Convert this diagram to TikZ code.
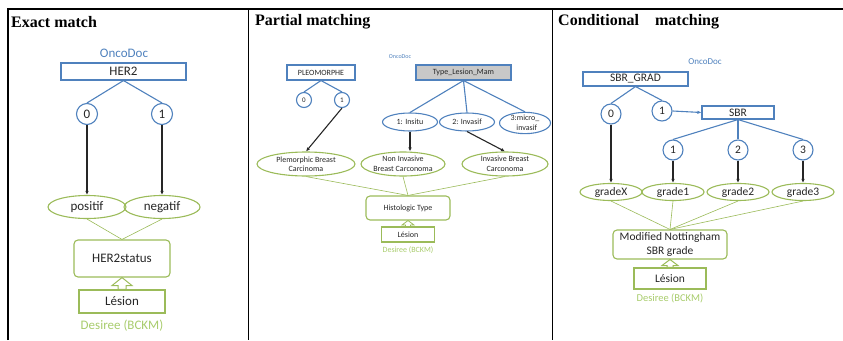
\documentclass[tikz,border=0pt]{standalone}
\usepackage{fontspec}
\setmainfont{Carlito}
\newfontfamily\titlefont{Liberation Serif}
\usetikzlibrary{shapes.geometric,arrows.meta,calc}

\definecolor{ocblue}{RGB}{79,129,189}
\definecolor{dsgreen}{RGB}{155,187,89}
\definecolor{dslight}{RGB}{168,204,108}
\definecolor{lesgrey}{RGB}{200,200,200}

\tikzset{
  title/.style={font=\titlefont\bfseries\fontsize{16}{18}\selectfont,anchor=west,inner sep=0pt},
  bigtext/.style={font=\fontsize{13}{15.5}\selectfont},
  midtext/.style={font=\fontsize{11.5}{13.5}\selectfont},
  smalltext/.style={font=\fontsize{8}{9.5}\selectfont},
  onco/.style={draw=ocblue,line width=1.1pt,rectangle,inner sep=0pt,text=black!85},
  val/.style={draw=ocblue,line width=1.1pt,circle,inner sep=0pt,text=black!85},
  term/.style={draw=dsgreen,line width=1.1pt,ellipse,inner sep=0pt,text=black!85,align=center},
  concept/.style={draw=dsgreen,line width=1.1pt,rounded corners=4pt,inner sep=0pt,text=black!85,align=center},
  lesion/.style={draw=dsgreen,line width=1.1pt,inner sep=0pt,text=black!85},
  bl/.style={draw=ocblue,line width=1.1pt},
  gl/.style={draw=dsgreen,semithick},
  map/.style={draw=black!85,line width=1.1pt,-{Latex[length=4pt,width=3.5pt]}},
  isa/.style={draw=dsgreen,line width=1pt,line join=miter},
}

\begin{document}
\begin{tikzpicture}[x=1pt,y=-1pt]
        \useasboundingbox (0,0) rectangle (843,340);
        \draw[line width=1.2pt] (8,340) -- (8,9) -- (843,9);
        \draw[line width=1pt] (248,9) -- (248,340);
        \draw[line width=1pt] (552,9) -- (552,340);

        % exact match
        \node[title] (t1) at (11,22) {Exact match};
        \node[bigtext,text=ocblue] (od1) at (124,53) {OncoDoc};
        \node[onco,bigtext,minimum width=125pt,minimum height=17pt] (her2) at (123.5,71.5) {HER2};
        \node[val,bigtext,minimum size=21pt] (h0) at (87,114) {0};
        \node[val,bigtext,minimum size=21pt] (h1) at (162,114) {1};
        \draw[bl] (her2.south) -- (h0.north);
        \draw[bl] (her2.south) -- (h1.north);
        \node[term,bigtext,minimum width=78pt,minimum height=23pt] (pos) at (87,207) {positif};
        \node[term,bigtext,minimum width=76pt,minimum height=23pt] (neg) at (162,207) {negatif};
        \draw[map] (h0.south) -- (pos.north);
        \draw[map] (h1.south) -- (neg.north);
        \node[concept,bigtext,minimum width=96pt,minimum height=37pt] (status) at (122,258.5) {HER2status};
        \draw[gl] (pos.south) -- (status.north);
        \draw[gl] (neg.south) -- (status.north);
        \node[lesion,bigtext,minimum width=86pt,minimum height=23pt] (les1) at (122,301.5) {Lésion};
        \draw[isa] (status.south) -- ++(-10,8) -- ++(6,0) -- ($(les1.north)+(-4,0)$)
          -- ($(les1.north)+(4,0)$) -- ($(status.south)+(4,8)$) -- ++(6,0) -- cycle;
        \node[bigtext,text=dslight] (ds1) at (122,326) {Desiree (BCKM)};

        % partial matching
        \node[title] (t2) at (255,22) {Partial matching};
        \node[font=\fontsize{6}{7}\selectfont,text=ocblue] (od2) at (400,57) {OncoDoc};
        \node[onco,smalltext,minimum width=68pt,minimum height=15pt] (pleo) at (321,72.5) {PLEOMORPHE};
        \node[onco,smalltext,fill=lesgrey,minimum width=95pt,minimum height=15pt] (tlm) at (463.5,72.5) {Type\_Lesion\_Mam};
        \node[val,font=\fontsize{7}{8}\selectfont,minimum size=15pt] (p0) at (304,100) {0};
        \node[val,font=\fontsize{7}{8}\selectfont,minimum size=15pt] (p1) at (342,100) {1};
        \draw[bl] (pleo.south) -- (p0.north);
        \draw[bl] (pleo.south) -- (p1.north);
        \node[term,smalltext,draw=ocblue,minimum width=55pt,minimum height=18pt] (ins) at (410,122) {1: Insitu};
        \node[term,smalltext,draw=ocblue,minimum width=55pt,minimum height=18pt] (inv) at (467,122) {2: Invasif};
        \node[term,smalltext,draw=ocblue,minimum width=51pt,minimum height=21pt] (mic) at (525,123) {3:micro\_\\ \ \ invasif};
        \draw[bl] (tlm.south) -- (ins.north);
        \draw[bl] (tlm.south) -- (inv.north);
        \draw[bl] (tlm.south) -- (mic.north);
        \node[term,smalltext,minimum width=98pt,minimum height=24pt] (ple) at (306,164) {Plemorphic Breast\\Carcinoma};
        \node[term,smalltext,minimum width=84pt,minimum height=24pt] (nib) at (403,164) {Non Invasive\\Breast Carconoma};
        \node[term,smalltext,minimum width=86pt,minimum height=24pt] (ib) at (505,164) {Invasive Breast\\Carconoma};
        \draw[map] (p1.south) -- (ple.north);
        \draw[map] (ins) -- (ins |- nib.north);
        \draw[map] (inv.south) -- (ib.north);
        \node[concept,smalltext,minimum width=84pt,minimum height=24pt] (hist) at (408,208) {Histologic Type};
        \draw[gl] (ple.south) -- (hist.north);
        \draw[gl] (nib.south) -- (hist.north);
        \draw[gl] (ib.south) -- (hist.north);
        \node[lesion,smalltext,minimum width=53pt,minimum height=15pt] (les2) at (408,234.5) {Lésion};
        \draw[isa,line width=0.8pt] (hist.south) -- ++(-6,4.5) -- ++(3.5,0) -- ($(les2.north)+(-2.5,0)$)
          -- ($(les2.north)+(2.5,0)$) -- ($(hist.south)+(2.5,4.5)$) -- ++(3.5,0) -- cycle;
        \node[smalltext,text=dslight] (ds2) at (408,250) {Desiree (BCKM)};

        % conditional matching
        \node[title] (t3) at (558,22) {Conditional\hspace{16pt}matching};
        \node[font=\fontsize{9}{11}\selectfont,text=ocblue] (od3) at (705,62) {OncoDoc};
        \node[onco,midtext,minimum width=105pt,minimum height=14pt] (sbrg) at (635.5,79) {SBR\_GRAD};
        \node[val,midtext,minimum size=20pt] (c0) at (611,114) {0};
        \node[val,midtext,minimum size=20pt] (c1) at (662,111) {1};
        \draw[bl] (sbrg.south) -- (c0.north);
        \draw[bl] (sbrg.south) -- (c1.north);
        \node[onco,midtext,minimum width=72pt,minimum height=13pt] (sbr) at (738,112.5) {SBR};
        \draw[bl,-{Latex[length=4pt,width=3.5pt]}] (c1.east) -- (sbr.west);
        \node[val,midtext,minimum size=20pt] (s1) at (673,150) {1};
        \node[val,midtext,minimum size=20pt] (s2) at (738,150) {2};
        \node[val,midtext,minimum size=20pt] (s3) at (803,150) {3};
        \draw[bl] (sbr.south) -- (s1.north);
        \draw[bl] (sbr.south) -- (s2.north);
        \draw[bl] (sbr.south) -- (s3.north);
        \node[term,midtext,minimum width=62pt,minimum height=17pt] (gx) at (611,192) {gradeX};
        \node[term,midtext,minimum width=62pt,minimum height=17pt] (g1) at (673,192) {grade1};
        \node[term,midtext,minimum width=62pt,minimum height=17pt] (g2) at (738,192) {grade2};
        \node[term,midtext,minimum width=62pt,minimum height=17pt] (g3) at (803,192) {grade3};
        \draw[map] (c0.south) -- (gx.north);
        \draw[map] (s1.south) -- (g1.north);
        \draw[map] (s2.south) -- (g2.north);
        \draw[map] (s3.south) -- (g3.north);
        \node[concept,midtext,minimum width=114pt,minimum height=29pt] (grade) at (670,244.5) {Modified Nottingham\\SBR grade};
        \draw[gl] (gx.south) -- (grade.north);
        \draw[gl] (g1.south) -- (grade.north);
        \draw[gl] (g2.south) -- (grade.north);
        \draw[gl] (g3.south) -- (grade.north);
        \node[lesion,midtext,minimum width=72pt,minimum height=21pt] (les3) at (670,278.5) {Lésion};
        \draw[isa] (grade.south) -- ++(-8,6) -- ++(5,0) -- ($(les3.north)+(-3,0)$)
          -- ($(les3.north)+(3,0)$) -- ($(grade.south)+(3,6)$) -- ++(5,0) -- cycle;
        \node[font=\fontsize{10.5}{12}\selectfont,text=dslight] (ds3) at (670,298) {Desiree (BCKM)};
      \end{tikzpicture}
\end{document}
